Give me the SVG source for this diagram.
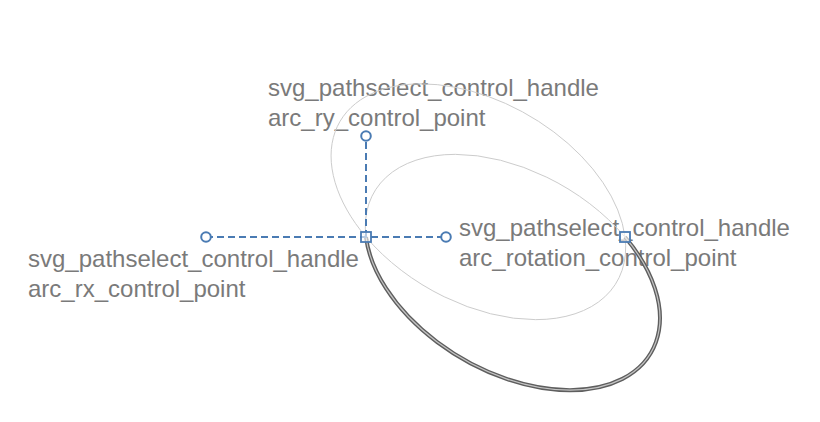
<svg xmlns="http://www.w3.org/2000/svg" width="820" height="422" viewBox="0 0 820 422">
  <style>
    .lbl { font-family: "Liberation Sans", Arial, Helvetica, sans-serif; font-size: 24px; fill: #7a7a7a; }
    .guide { fill: none; stroke: #cccccc; stroke-width: 1; }
    .dash { fill: none; stroke: #4a7bb3; stroke-width: 2; stroke-dasharray: 7 4; }
    .pt { fill: #ffffff; stroke: #4a7bb3; stroke-width: 2; }
    .sq { fill: #ffffff; fill-opacity: 0.6; stroke: #4a7bb3; stroke-width: 1.8; }
  </style>
  <rect width="820" height="422" fill="#ffffff"/>

  <g id="labels">
    <text class="lbl" x="268" y="96">svg_pathselect_control_handle</text>
    <text class="lbl" x="268" y="126">arc_ry_control_point</text>
    <text class="lbl" x="28" y="267">svg_pathselect_control_handle</text>
    <text class="lbl" x="28" y="297">arc_rx_control_point</text>
    <text class="lbl" x="459" y="236">svg_pathselect_control_handle</text>
    <text class="lbl" x="459" y="266">arc_rotation_control_point</text>
  </g>

  <g id="guide-ellipses">
    <path class="guide" d="M366 237 A160 100 30 1 1 625 237 A160 100 30 0 1 366 237"/>
    <path class="guide" d="M366 237 A160 100 30 0 1 625 237"/>
  </g>

  <g id="arc-path">
    <path d="M366 237 A160 100 30 1 0 625 237" fill="none" stroke="#5e5e5e" stroke-width="4"/>
    <path d="M366 237 A160 100 30 1 0 625 237" fill="none" stroke="#c4c4c4" stroke-width="1.2"/>
  </g>

  <g id="connectors">
    <line class="dash" x1="206" y1="237" x2="446" y2="237"/>
    <line class="dash" x1="366" y1="237" x2="366" y2="136"/>
  </g>

  <g id="rx-handle"><circle class="pt" cx="206" cy="237" r="4.8"/></g>
  <g id="rotation-handle"><circle class="pt" cx="446" cy="237" r="4.8"/></g>
  <g id="ry-handle"><circle class="pt" cx="366" cy="136" r="4.8"/></g>
  <g id="start-point"><rect class="sq" x="361" y="232" width="10" height="10"/></g>
  <g id="end-point"><rect class="sq" x="620" y="232" width="10" height="10"/></g>
</svg>
